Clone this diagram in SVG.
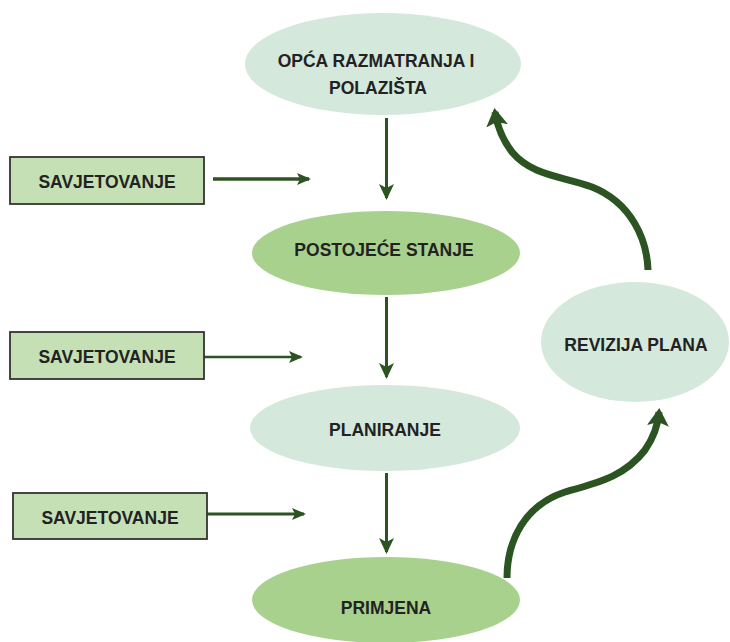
<svg xmlns="http://www.w3.org/2000/svg" width="730" height="642" viewBox="0 0 730 642">
  <defs>
    <style>
      .light { fill: #d5e8dc; }
      .mid { fill: #a9d18e; }
      .box { fill: #c5e0b4; stroke: #333333; stroke-width: 1.8; }
      .lbl { font-family: "Liberation Sans", Arial, sans-serif; font-weight: bold; font-size: 17.5px; fill: #222222; text-anchor: middle; }
      .conn { stroke: #2c5322; fill: none; }
    </style>
    <marker id="ah" viewBox="0 0 16 15" refX="14" refY="7.5" markerWidth="16" markerHeight="15" markerUnits="userSpaceOnUse" orient="auto">
      <path d="M0,0 L16,7.5 L0,15 L4,7.5 z" fill="#2c5322"/>
    </marker>
    <marker id="ahs" viewBox="0 0 14 12" refX="12" refY="6" markerWidth="14" markerHeight="12" markerUnits="userSpaceOnUse" orient="auto">
      <path d="M0,0 L14,6 L0,12 L3,6 z" fill="#2c5322"/>
    </marker>
    <marker id="ahb" viewBox="0 0 18 22" refX="14" refY="11" markerWidth="18" markerHeight="22" markerUnits="userSpaceOnUse" orient="auto">
      <path d="M0,0 L18,11 L0,22 L4,11 z" fill="#2c5322"/>
    </marker>
  </defs>
  <rect width="730" height="642" fill="#ffffff"/>

  <g id="connectors">
    <line class="conn" x1="386.5" y1="118" x2="386.5" y2="198" stroke-width="3" marker-end="url(#ah)"/>
    <line class="conn" x1="386.5" y1="297" x2="386.5" y2="377" stroke-width="3" marker-end="url(#ah)"/>
    <line class="conn" x1="386.5" y1="473" x2="386.5" y2="552" stroke-width="3" marker-end="url(#ah)"/>
    <line class="conn" x1="213" y1="179" x2="309" y2="179" stroke-width="3.5" marker-end="url(#ahs)"/>
    <line class="conn" x1="204" y1="357" x2="301" y2="357" stroke-width="2.5" marker-end="url(#ahs)"/>
    <line class="conn" x1="207" y1="514" x2="304" y2="514" stroke-width="3" marker-end="url(#ahs)"/>
    <path class="conn" d="M507,578 C507,540 525,505 565,492 C600,482 625,476 645,450 C654,437 658,425 659,412" stroke-width="7" marker-end="url(#ahb)"/>
    <path class="conn" d="M648,270 C647,240 632,203 592,187 C562,176 532,176 512,152 C502,139 497,125 495,112" stroke-width="7" marker-end="url(#ahb)"/>
  </g>

  <g id="node-opca">
    <ellipse class="light" cx="383" cy="64" rx="138" ry="51"/>
    <text class="lbl" x="376" y="67">OPĆA RAZMATRANJA I</text>
    <text class="lbl" x="378" y="94">POLAZIŠTA</text>
  </g>
  <g id="node-postojece">
    <ellipse class="mid" cx="386" cy="253" rx="134" ry="42"/>
    <text class="lbl" x="384" y="256">POSTOJEĆE STANJE</text>
  </g>
  <g id="node-planiranje">
    <ellipse class="light" cx="385" cy="428" rx="135" ry="43"/>
    <text class="lbl" x="385" y="436">PLANIRANJE</text>
  </g>
  <g id="node-primjena">
    <ellipse class="mid" cx="386" cy="600" rx="134" ry="43"/>
    <text class="lbl" x="386" y="614">PRIMJENA</text>
  </g>
  <g id="node-revizija">
    <ellipse class="light" cx="635" cy="342" rx="94" ry="60"/>
    <text class="lbl" x="636" y="351">REVIZIJA PLANA</text>
  </g>
  <g id="node-savjetovanje-1">
    <rect class="box" x="10" y="157" width="194" height="47"/>
    <text class="lbl" x="107" y="188">SAVJETOVANJE</text>
  </g>
  <g id="node-savjetovanje-2">
    <rect class="box" x="10" y="332" width="194" height="47"/>
    <text class="lbl" x="107" y="363">SAVJETOVANJE</text>
  </g>
  <g id="node-savjetovanje-3">
    <rect class="box" x="13" y="493" width="194" height="46"/>
    <text class="lbl" x="110" y="524">SAVJETOVANJE</text>
  </g>
</svg>
